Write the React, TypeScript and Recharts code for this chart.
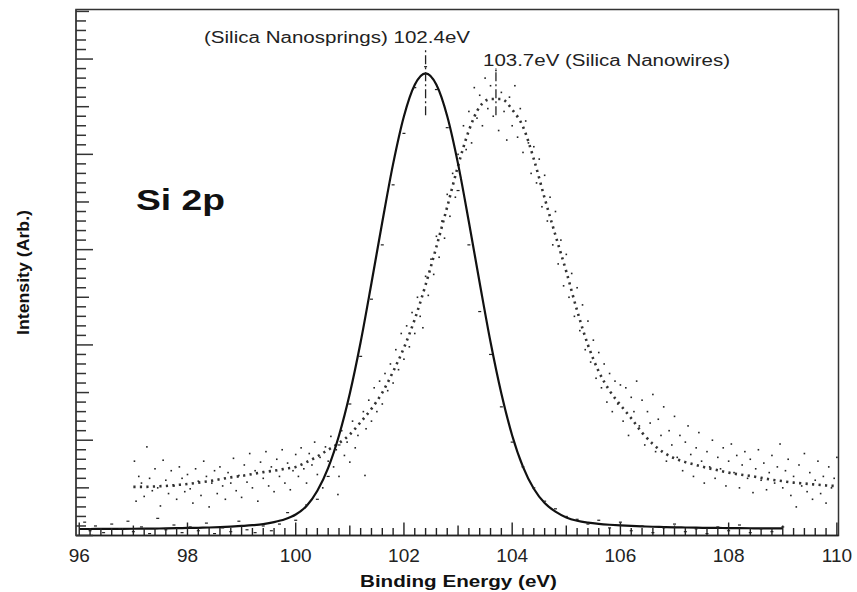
import React from 'react';
import { ComposedChart, Line, Scatter, XAxis, YAxis, ReferenceLine, ReferenceArea } from 'recharts';

// Si 2p spectra, nanosprings (solid fit) vs nanowires (dotted fit + raw points)
const springEnergy = [
  96.0, 96.2, 96.4, 96.6, 96.8, 97.0, 97.2, 97.4, 97.6, 97.8, 98.0, 98.2, 98.4, 98.6, 98.8, 99.0,
  99.2, 99.4, 99.6, 99.8, 100.0, 100.2, 100.4, 100.6, 100.8, 101.0, 101.2, 101.4, 101.6, 101.8, 102.0, 102.2,
  102.4, 102.6, 102.8, 103.0, 103.2, 103.4, 103.6, 103.8, 104.0, 104.2, 104.4, 104.6, 104.8, 105.0, 105.2,
  105.4, 105.6, 105.8, 106.0, 106.2, 106.4, 106.6, 106.8, 107.0, 107.2, 107.4, 107.6, 107.8, 108.0, 108.2,
  108.4, 108.6, 108.8, 109.0,
];
const springIntensity = [
  0.068, 0.068, 0.069, 0.069, 0.07, 0.071, 0.072, 0.073, 0.075, 0.077, 0.079, 0.081, 0.084, 0.088, 0.093, 0.1,
  0.108, 0.12, 0.14, 0.17, 0.22, 0.31, 0.47, 0.71, 1.05, 1.49, 2.03, 2.65, 3.29, 3.9, 4.4, 4.73,
  4.85, 4.73, 4.4, 3.9, 3.29, 2.65, 2.03, 1.49, 1.05, 0.72, 0.49, 0.34, 0.25, 0.19, 0.155,
  0.135, 0.122, 0.113, 0.106, 0.1, 0.096, 0.092, 0.089, 0.086, 0.084, 0.082, 0.08, 0.079, 0.078, 0.077,
  0.076, 0.075, 0.075, 0.074,
];

const wireEnergy = [
  97.0, 97.2, 97.4, 97.6, 97.8, 98.0, 98.2, 98.4, 98.6, 98.8, 99.0, 99.2, 99.4, 99.6, 99.8, 100.0,
  100.2, 100.4, 100.6, 100.8, 101.0, 101.2, 101.4, 101.6, 101.8, 102.0, 102.2, 102.4, 102.6, 102.8, 103.0,
  103.2, 103.4, 103.6, 103.8, 104.0, 104.2, 104.4, 104.6, 104.8, 105.0, 105.2, 105.4, 105.6, 105.8, 106.0,
  106.2, 106.4, 106.6, 106.8, 107.0, 107.2, 107.4, 107.6, 107.8, 108.0, 108.2, 108.4, 108.6, 108.8, 109.0,
  109.2, 109.4, 109.6, 109.8, 110.0,
];
const wireIntensity = [
  0.51, 0.51, 0.515, 0.52, 0.53, 0.54, 0.555, 0.57, 0.59, 0.61, 0.625, 0.645, 0.665, 0.68, 0.7, 0.72,
  0.77, 0.83, 0.9, 0.97, 1.06, 1.19, 1.33, 1.5, 1.72, 1.97, 2.27, 2.63, 3.03, 3.45, 3.88,
  4.25, 4.5, 4.58, 4.58, 4.47, 4.29, 3.95, 3.54, 3.15, 2.77, 2.36, 2.0, 1.72, 1.52, 1.37,
  1.23, 1.08, 0.96, 0.87, 0.81, 0.77, 0.74, 0.71, 0.685, 0.66, 0.64, 0.625, 0.605, 0.585, 0.57,
  0.555, 0.545, 0.535, 0.525, 0.52,
];

const wirePoints = [
  [97.02, 0.78], [97.05, 0.36], [97.1, 0.62], [97.15, 0.55], [97.2, 0.41], [97.25, 0.93], [97.3, 0.6], [97.35, 0.47],
  [97.4, 0.7], [97.45, 0.5], [97.5, 0.31], [97.55, 0.79], [97.6, 0.58], [97.65, 0.44], [97.7, 0.68], [97.75, 0.52],
  [97.8, 0.38], [97.85, 0.72], [97.9, 0.6], [97.95, 0.46], [98.0, 0.64], [98.05, 0.49], [98.1, 0.34], [98.15, 0.7],
  [98.2, 0.57], [98.25, 0.42], [98.3, 0.78], [98.35, 0.62], [98.4, 0.3], [98.45, 0.55], [98.5, 0.68], [98.55, 0.44],
  [98.6, 0.72], [98.65, 0.52], [98.7, 0.38], [98.75, 0.66], [98.8, 0.55], [98.85, 0.81], [98.9, 0.47], [98.95, 0.63],
  [99.0, 0.4], [99.05, 0.74], [99.1, 0.56], [99.15, 0.86], [99.2, 0.5], [99.25, 0.68], [99.3, 0.36], [99.35, 0.77],
  [99.4, 0.6], [99.45, 0.88], [99.5, 0.52], [99.55, 0.72], [99.6, 0.46], [99.65, 0.8], [99.7, 0.62], [99.75, 0.9],
  [99.8, 0.55], [99.85, 0.76], [99.9, 0.48], [99.95, 0.68], [100.0, 0.85], [100.05, 0.62], [100.1, 0.92], [100.15, 0.7],
  [100.2, 0.55], [100.25, 0.86], [100.3, 0.74], [100.35, 0.98], [100.4, 0.64], [100.45, 0.82], [100.5, 0.5], [100.55, 0.93],
  [100.6, 0.78], [100.65, 1.04], [100.7, 0.72], [100.75, 0.9], [100.78, 0.43], [100.8, 0.62], [100.85, 1.1], [100.9, 0.84],
  [100.95, 0.98], [101.0, 0.77], [101.05, 1.2], [101.1, 0.92], [101.15, 1.05], [101.28, 0.63], [101.25, 1.3], [101.3, 1.12],
  [101.35, 1.42], [101.4, 1.2], [101.45, 1.55], [101.5, 1.3], [101.55, 1.62], [101.6, 1.38], [101.65, 1.7], [101.7, 1.52],
  [101.75, 1.8], [101.8, 1.6], [101.85, 1.95], [101.9, 1.74], [101.95, 2.12], [102.0, 1.85], [102.05, 2.2], [102.1, 1.98],
  [102.15, 2.34], [102.2, 2.12], [102.25, 2.5], [102.3, 2.3], [102.35, 2.18], [102.4, 2.72], [102.45, 2.52], [102.5, 2.9],
  [102.55, 2.74], [102.6, 3.14], [102.65, 2.92], [102.7, 3.3], [102.75, 3.12], [102.8, 3.58], [102.85, 3.35], [102.9, 3.8],
  [102.95, 3.55], [103.0, 4.0], [103.05, 3.75], [103.1, 4.3], [103.15, 4.05], [103.2, 4.45], [103.25, 4.12], [103.3, 4.7],
  [103.35, 4.38], [103.4, 4.62], [103.45, 4.3], [103.5, 4.8], [103.55, 4.48], [103.6, 4.72], [103.65, 4.4], [103.7, 4.88],
  [103.75, 4.25], [103.8, 4.65], [103.85, 4.45], [103.9, 4.15], [103.95, 4.6], [104.0, 4.3], [104.05, 4.72], [104.1, 4.18],
  [104.15, 4.48], [104.2, 4.02], [104.25, 4.35], [104.3, 4.12], [104.35, 3.8], [104.4, 4.08], [104.45, 3.7], [104.5, 3.95],
  [104.55, 3.45], [104.6, 3.78], [104.65, 3.3], [104.7, 3.55], [104.75, 3.05], [104.8, 3.4], [104.85, 2.85], [104.9, 3.1],
  [104.95, 2.62], [105.0, 2.95], [105.05, 2.5], [105.1, 2.75], [105.15, 2.3], [105.2, 2.6], [105.25, 2.15], [105.3, 2.42],
  [105.35, 1.95], [105.4, 2.25], [105.45, 1.82], [105.5, 2.05], [105.55, 1.65], [105.6, 1.92], [105.65, 1.55], [105.7, 1.8],
  [105.75, 1.4], [105.8, 1.7], [105.85, 1.3], [105.9, 1.62], [105.95, 1.38], [106.0, 1.58], [106.05, 1.2], [106.1, 1.55],
  [106.15, 1.05], [106.2, 1.45], [106.25, 1.3], [106.3, 1.62], [106.35, 1.15], [106.4, 1.42], [106.45, 0.95], [106.5, 1.3],
  [106.55, 1.18], [106.6, 1.48], [106.65, 0.88], [106.7, 1.22], [106.75, 1.05], [106.8, 1.35], [106.85, 0.78], [106.9, 1.1],
  [106.95, 0.95], [107.0, 1.25], [107.05, 0.82], [107.1, 1.05], [107.15, 0.68], [107.2, 0.98], [107.25, 1.15], [107.3, 0.85],
  [107.35, 0.62], [107.4, 0.92], [107.45, 1.08], [107.5, 0.78], [107.55, 0.55], [107.6, 0.88], [107.65, 0.72], [107.7, 1.0],
  [107.75, 0.6], [107.8, 0.82], [107.85, 0.7], [107.9, 0.92], [107.95, 0.52], [108.0, 0.78], [108.05, 0.96], [108.1, 0.66],
  [108.15, 0.84], [108.2, 0.5], [108.25, 0.74], [108.3, 0.88], [108.35, 0.6], [108.4, 0.8], [108.45, 0.45], [108.5, 0.7],
  [108.55, 0.9], [108.6, 0.58], [108.65, 0.76], [108.7, 0.48], [108.75, 0.66], [108.8, 0.84], [108.85, 0.55], [108.9, 0.72],
  [108.95, 0.96], [109.0, 0.5], [109.05, 0.68], [109.1, 0.8], [109.15, 0.42], [109.2, 0.62], [109.25, 0.3], [109.3, 0.74],
  [109.35, 0.52], [109.4, 0.86], [109.45, 0.46], [109.5, 0.66], [109.55, 0.38], [109.6, 0.58], [109.65, 0.78], [109.7, 0.44],
  [109.75, 0.62], [109.8, 0.34], [109.85, 0.72], [109.9, 0.5], [109.95, 0.6], [110.0, 0.82],
];

const springPoints = [
  [96.1, 0.14], [96.2, 0.05], [96.3, 0.1], [96.45, 0.03], [96.6, 0.12], [96.75, 0.07], [96.9, 0.15], [97.0, 0.04],
  [97.15, 0.09], [97.3, 0.02], [97.45, 0.18], [97.6, 0.06], [97.75, 0.11], [97.9, 0.03], [98.05, 0.09], [98.2, 0.05],
  [98.35, 0.13], [98.5, 0.02], [98.65, 0.08], [98.8, 0.04], [98.95, 0.15], [99.1, 0.06], [99.25, 0.03], [99.4, 0.1],
  [99.55, 0.05], [99.7, 0.12], [99.85, 0.24], [100.0, 0.16], [100.2, 0.32], [100.4, 0.38], [100.6, 0.62], [100.8, 0.95],
  [101.0, 1.38], [101.2, 1.88], [101.4, 2.48], [101.6, 3.05], [101.8, 3.68], [102.0, 4.22], [102.2, 4.7], [102.4, 4.92],
  [102.6, 4.68], [102.8, 4.28], [103.0, 3.62], [103.2, 3.05], [103.4, 2.35], [103.6, 1.9], [103.8, 1.35], [104.0, 0.98],
  [104.2, 0.72], [104.4, 0.5], [104.6, 0.36], [104.8, 0.28], [105.0, 0.2], [105.2, 0.17], [105.4, 0.12], [105.6, 0.16],
  [105.8, 0.08], [106.0, 0.14], [106.2, 0.05], [106.4, 0.1], [106.6, 0.03], [106.8, 0.08], [107.0, 0.12], [107.2, 0.04],
  [107.4, 0.07], [107.6, 0.02], [107.8, 0.09], [108.0, 0.05], [108.2, 0.11], [108.4, 0.03], [108.6, 0.07], [108.8, 0.04],
  [109.0, 0.09],
];

const xTickLabels = [96, 98, 100, 102, 104, 106, 108, 110];
const springPeak = 102.4;
const wirePeak = 103.7;

const X_DOMAIN: [number, number] = [95.94, 110.03];
const Y_DOMAIN: [number, number] = [0, 5.52];
const FONT = '"Liberation Sans", Arial, Helvetica, sans-serif';

const springLine = springEnergy.map((x, i) => ({ x, y: springIntensity[i] }));
const wireLine = wireEnergy.map((x, i) => ({ x, y: wireIntensity[i] }));
const wireScatter = wirePoints.map(([x, y]) => ({ x, y }));
const springScatter = springPoints.map(([x, y]) => ({ x, y }));

// minor ticks every 0.2 eV, every 0.1 intensity units
const xTicks: number[] = [];
for (let i = 0; i <= 70; i++) xTicks.push(Math.round((96 + i * 0.2) * 10) / 10);
const yTicks: number[] = [];
for (let i = 0; i <= 55; i++) yTicks.push(i / 10);

const XTick = (props: any) => {
  const { x, y, payload } = props;
  const v = payload.value;
  const tenths = Math.round(v * 10);
  const isInt = tenths % 10 === 0;
  const label = xTickLabels.find((t) => Math.abs(t - v) < 0.01);
  const len = label !== undefined ? 13 : isInt ? 10 : 7.5;
  return (
    <g>
      <line x1={x} x2={x} y1={y} y2={y - len} stroke="#222" strokeWidth={1.4} />
      {label !== undefined && (
        <text x={x} y={y + 26.5} textAnchor="middle" fontSize={19} fontFamily={FONT} fill="#222">
          {label}
        </text>
      )}
    </g>
  );
};

const YTick = (props: any) => {
  const { x, y, payload } = props;
  const tenths = Math.round(payload.value * 10);
  const len = tenths % 10 === 0 ? 17 : tenths % 5 === 0 ? 13 : 10;
  return <line x1={x} x2={x + len} y1={y} y2={y} stroke="#333" strokeWidth={1.5} />;
};

const dotShape = (props: any) => (
  <rect x={props.cx - 0.8} y={props.cy - 0.8} width={1.6} height={1.6} fill="#222" />
);
const dashShape = (props: any) => (
  <rect x={props.cx - 1.5} y={props.cy - 0.6} width={3} height={1.2} fill="#222" />
);

export default function App() {
  return (
    <div style={{ position: 'absolute', left: 0, top: 0, width: 857, height: 592, background: '#fff' }}>
      <ComposedChart width={857} height={592} margin={{ top: 9.5, right: 18.5, bottom: 0, left: 0 }}>
        <XAxis
          type="number"
          dataKey="x"
          domain={X_DOMAIN}
          allowDataOverflow
          ticks={xTicks}
          interval={0}
          tick={<XTick />}
          tickLine={false}
          tickSize={0}
          tickMargin={0}
          height={56.5}
          axisLine={{ stroke: '#222', strokeWidth: 1.6 }}
        />
        <YAxis
          type="number"
          dataKey="y"
          domain={Y_DOMAIN}
          allowDataOverflow
          ticks={yTicks}
          interval={0}
          tick={<YTick />}
          tickLine={false}
          tickSize={0}
          tickMargin={0}
          width={76}
          axisLine={{ stroke: '#444', strokeWidth: 1.6 }}
        />
        <ReferenceArea
          x1={X_DOMAIN[0]}
          x2={X_DOMAIN[1]}
          y1={Y_DOMAIN[0]}
          y2={Y_DOMAIN[1]}
          fill="none"
          fillOpacity={0}
          stroke="#333"
          strokeWidth={1.5}
          ifOverflow="visible"
        />
        <Scatter data={wireScatter} dataKey="y" shape={dotShape} isAnimationActive={false} />
        <Scatter data={springScatter} dataKey="y" shape={dashShape} isAnimationActive={false} />
        <Line
          data={wireLine}
          dataKey="y"
          type="monotone"
          stroke="#333"
          strokeWidth={2.6}
          strokeDasharray="2.2 4.3"
          dot={false}
          isAnimationActive={false}
        />
        <Line
          data={springLine}
          dataKey="y"
          type="monotone"
          stroke="#111"
          strokeWidth={2.2}
          dot={false}
          isAnimationActive={false}
        />
        <ReferenceLine
          segment={[{ x: springPeak, y: 4.41 }, { x: springPeak, y: 5.1 }]}
          stroke="#222"
          strokeWidth={1.3}
          strokeDasharray="9 3 2 3"
        />
        <ReferenceLine
          segment={[{ x: wirePeak, y: 4.41 }, { x: wirePeak, y: 4.9 }]}
          stroke="#222"
          strokeWidth={1.3}
          strokeDasharray="9 3 2 3"
        />
      </ComposedChart>
      <svg
        width={857}
        height={592}
        style={{ position: 'absolute', left: 0, top: 0, pointerEvents: 'none' }}
        fontFamily={FONT}
      >
        <text x={204} y={43.3} fontSize={16} fill="#222" textLength={266} lengthAdjust="spacingAndGlyphs">
          (Silica Nanosprings) 102.4eV
        </text>
        <text x={483} y={65.7} fontSize={16} fill="#222" textLength={247} lengthAdjust="spacingAndGlyphs">
          103.7eV (Silica Nanowires)
        </text>
        <text x={136} y={210} fontSize={30} fontWeight="bold" fill="#111" textLength={89} lengthAdjust="spacingAndGlyphs">
          Si 2p
        </text>
        <text x={360} y={586.5} fontSize={17} fontWeight="bold" fill="#111" textLength={197} lengthAdjust="spacingAndGlyphs">
          Binding Energy (eV)
        </text>
        <text
          transform="translate(29,335) rotate(-90)"
          fontSize={16}
          fontWeight="bold"
          fill="#111"
          textLength={125}
          lengthAdjust="spacingAndGlyphs"
        >
          Intensity (Arb.)
        </text>
      </svg>
    </div>
  );
}
